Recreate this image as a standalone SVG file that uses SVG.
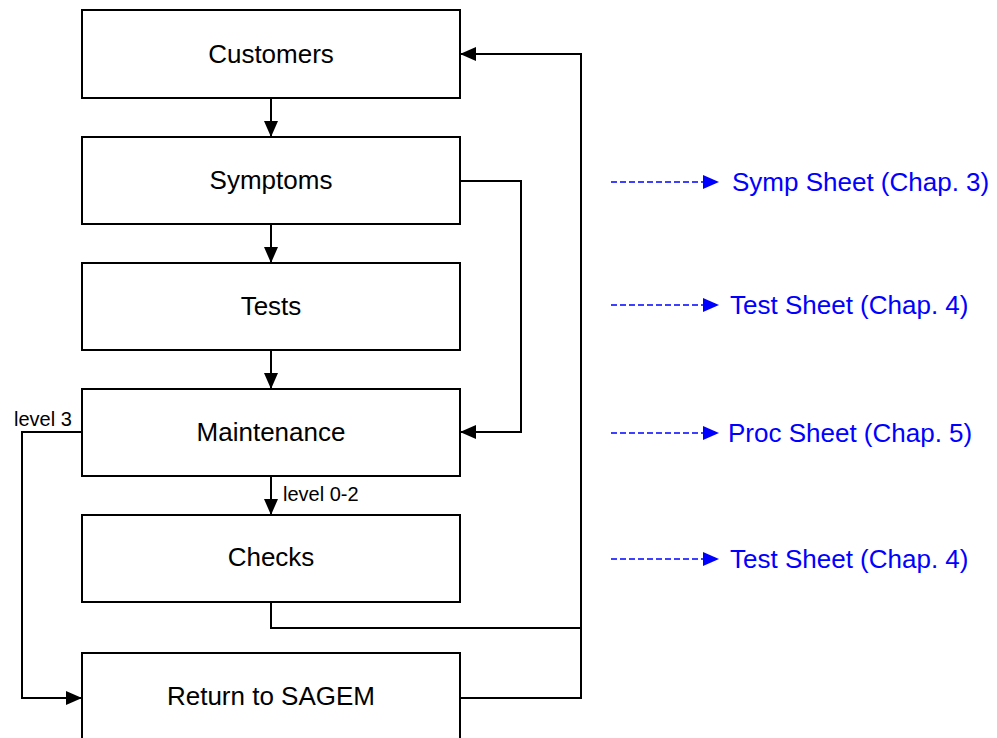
<svg xmlns="http://www.w3.org/2000/svg" width="997" height="738" viewBox="0 0 997 738">
<defs>
<style>
.box{fill:#fff;stroke:#000;stroke-width:2}
.lbl{font-family:"Liberation Sans",Arial,Helvetica,sans-serif;font-size:26px;fill:#000;text-anchor:middle}
.small{font-family:"Liberation Sans",Arial,Helvetica,sans-serif;font-size:20px;fill:#000}
.ref{font-family:"Liberation Sans",Arial,Helvetica,sans-serif;font-size:26px;fill:#0000ff}
.edge{fill:none;stroke:#000;stroke-width:2}
.dash{fill:none;stroke:#0000ff;stroke-width:1.5;stroke-dasharray:6 3}
</style>
<marker id="ah" markerWidth="16" markerHeight="14" refX="15" refY="7" orient="auto" markerUnits="userSpaceOnUse">
<path d="M0,0 L16,7 L0,14 Z" fill="#000"/>
</marker>
<marker id="ahb" markerWidth="16" markerHeight="14" refX="15" refY="7" orient="auto" markerUnits="userSpaceOnUse">
<path d="M0,0 L16,7 L0,14 Z" fill="#0000ff"/>
</marker>
</defs>
<rect width="997" height="738" fill="#fff"/>
<g id="connectors">
<line class="edge" x1="271" y1="98" x2="271" y2="136" marker-end="url(#ah)"/>
<line class="edge" x1="271" y1="224" x2="271" y2="262" marker-end="url(#ah)"/>
<line class="edge" x1="271" y1="350" x2="271" y2="388" marker-end="url(#ah)"/>
<line class="edge" x1="271" y1="476" x2="271" y2="514" marker-end="url(#ah)"/>
<polyline class="edge" points="460,181 521,181 521,432 461,432" marker-end="url(#ah)"/>
<polyline class="edge" points="82,432 22,432 22,698 81,698" marker-end="url(#ah)"/>
<polyline class="edge" points="271,602 271,628 581,628"/>
<polyline class="edge" points="460,698 581,698 581,54 461,54" marker-end="url(#ah)"/>
<text class="small" x="14" y="426">level 3</text>
<text class="small" x="283" y="501">level 0-2</text>
<line class="dash" x1="611" y1="182" x2="718" y2="182" marker-end="url(#ahb)"/>
<line class="dash" x1="611" y1="305" x2="718" y2="305" marker-end="url(#ahb)"/>
<line class="dash" x1="611" y1="433" x2="718" y2="433" marker-end="url(#ahb)"/>
<line class="dash" x1="611" y1="559" x2="718" y2="559" marker-end="url(#ahb)"/>
</g>
<g id="customers"><rect class="box" x="82" y="10" width="378" height="88"/><text class="lbl" x="271" y="63">Customers</text></g>
<g id="symptoms"><rect class="box" x="82" y="137" width="378" height="87"/><text class="lbl" x="271" y="189">Symptoms</text></g>
<g id="tests"><rect class="box" x="82" y="263" width="378" height="87"/><text class="lbl" x="271" y="315">Tests</text></g>
<g id="maintenance"><rect class="box" x="82" y="389" width="378" height="87"/><text class="lbl" x="271" y="441">Maintenance</text></g>
<g id="checks"><rect class="box" x="82" y="515" width="378" height="87"/><text class="lbl" x="271" y="566">Checks</text></g>
<g id="return"><rect class="box" x="82" y="653" width="378" height="90"/><text class="lbl" x="271" y="705">Return to SAGEM</text></g>
<g id="ref-symp"><text class="ref" x="732" y="191">Symp Sheet (Chap. 3)</text></g>
<g id="ref-test1"><text class="ref" x="730" y="314">Test Sheet (Chap. 4)</text></g>
<g id="ref-proc"><text class="ref" x="728" y="442">Proc Sheet (Chap. 5)</text></g>
<g id="ref-test2"><text class="ref" x="730" y="568">Test Sheet (Chap. 4)</text></g>
</svg>
